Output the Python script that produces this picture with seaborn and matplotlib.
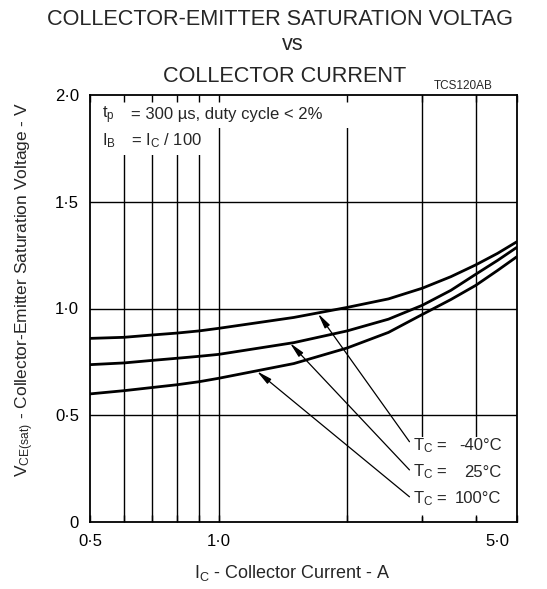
import numpy as np
import pandas as pd
import matplotlib
matplotlib.use("Agg")
import matplotlib.pyplot as plt
import matplotlib.transforms as mtransforms
from matplotlib.patches import Rectangle
from matplotlib.ticker import FixedLocator, NullLocator
import seaborn as sns

# Collector current (A) at which each curve is sampled
current_a = [0.5, 0.6, 0.7, 0.8, 0.9, 1.0, 1.5, 2.0, 2.5, 3.0, 3.5, 4.0, 4.5, 5.0]
# V_CE(sat) (V) for each case temperature
vce_m40 = [0.860, 0.865, 0.876, 0.885, 0.895, 0.907, 0.958, 1.005, 1.045, 1.095, 1.149, 1.204, 1.258, 1.313]
vce_25 = [0.737, 0.745, 0.757, 0.767, 0.776, 0.785, 0.840, 0.895, 0.950, 1.015, 1.085, 1.160, 1.225, 1.287]
vce_100 = [0.600, 0.615, 0.630, 0.643, 0.657, 0.673, 0.742, 0.815, 0.888, 0.972, 1.042, 1.108, 1.178, 1.243]
temps = ["-40", "25", "100"]

x_grid = [0.5, 0.6, 0.7, 0.8, 0.9, 1.0, 2.0, 3.0, 4.0, 5.0]
x_labels = ["0·5", "", "", "", "", "1·0", "", "", "", "5·0"]
y_grid = [0.0, 0.5, 1.0, 1.5, 2.0]
y_labels = ["0", "0·5", "1·0", "1·5", "2·0"]

df = pd.DataFrame({
    "current": current_a * 3,
    "vce": vce_m40 + vce_25 + vce_100,
    "temp": [t for t in temps for _ in current_a],
})

sns.set_theme(style="white")
plt.rcParams["font.family"] = ["Liberation Sans", "DejaVu Sans"]
plt.rcParams["mathtext.default"] = "regular"

W, H = 547, 589
fig = plt.figure(figsize=(W / 100, H / 100), dpi=100)
ax = fig.add_axes([90 / W, 1 - 522 / H, 427 / W, 427 / H])
ax.set_xscale("log")
ax.set_xlim(0.5, 5.0)
ax.set_ylim(0, 2.0)

# grid
for xv in x_grid[1:-1]:
    ax.axvline(xv, color="black", lw=1.0, zorder=0.8)
for yv in y_grid[1:-1]:
    ax.axhline(yv, color="black", lw=1.0, zorder=0.8)

# white panels behind the note texts
ax.add_patch(Rectangle((0.5, 1.845), 2.06 - 0.5, 0.16, facecolor="white",
                       edgecolor="none", zorder=0.9))
ax.add_patch(Rectangle((0.5, 1.72), 0.96 - 0.5, 0.13, facecolor="white",
                       edgecolor="none", zorder=0.9))
ax.add_patch(Rectangle((2.75, 0.022), 4.9 - 2.75, 0.40 - 0.022, facecolor="white",
                       edgecolor="none", zorder=0.9))

sns.lineplot(data=df, x="current", y="vce", hue="temp", palette=["black"] * 3,
             linewidth=2.0, legend=False, ax=ax, zorder=2)

ax.set_axisbelow(False)
ax.xaxis.set_major_locator(FixedLocator(x_grid))
ax.xaxis.set_minor_locator(NullLocator())
ax.set_xticklabels(x_labels)
ax.set_yticks(y_grid)
ax.set_yticklabels(y_labels)
ax.tick_params(axis="x", which="major", direction="in", length=5, width=1.0,
               top=True, bottom=True, color="black", pad=9, labelsize=12,
               labelcolor="black")
ax.tick_params(axis="y", length=0, pad=8, labelsize=12, labelcolor="black")
ax.set_xlabel("")
ax.set_ylabel("")
for s in ax.spines.values():
    s.set_color("black")
    s.set_linewidth(1.3)
    s.set_visible(True)

# shift the end label inward
last = ax.get_xticklabels()[-1]
last.set_transform(last.get_transform() + mtransforms.ScaledTranslation(-0.2, 0, fig.dpi_scale_trans))

def ftext(x, y, s, **kw):
    fig.text(x / W, 1 - y / H, s, **kw)

# titles
ftext(280, 25, "COLLECTOR-EMITTER SATURATION VOLTAG", ha="center", va="baseline", fontsize=15.6)
ftext(293, 50, "vs", ha="center", va="baseline", fontsize=15.6)
ftext(285, 81.5, "COLLECTOR CURRENT", ha="center", va="baseline", fontsize=15.6)
ftext(493, 89, "TCS120AB", ha="right", va="baseline", fontsize=8.5)

# axis labels
ftext(292, 578, "I$_C$ - Collector Current - A", ha="center", va="baseline", fontsize=13)
ftext(25, 290, "V$_{CE(sat)}$ - Collector-Emitter Saturation Voltage - V",
      ha="center", va="center", rotation=90, fontsize=12.5)

# test conditions
ftext(102, 118.5, "t$_p$", ha="left", va="baseline", fontsize=12)
ftext(131, 118.5, "= 300 µs, duty cycle < 2%", ha="left", va="baseline", fontsize=12)
ftext(102, 145, "I$_B$", ha="left", va="baseline", fontsize=12)
ftext(131, 145, "= I$_C$ / 100", ha="left", va="baseline", fontsize=12)

# curve labels with leader arrows
label_x, value_x = 2.85, 4.6
label_y = [0.337, 0.212, 0.087]
tail_y = [0.376, 0.244, 0.118]
tips = [(1.71, 0.976), (1.47, 0.838), (1.23, 0.706)]
values = ["-40°C", "25°C", "100°C"]
for ly, ty, tip, val in zip(label_y, tail_y, tips, values):
    ax.text(label_x, ly, "T$_C$ =", ha="left", va="baseline", fontsize=12, zorder=3)
    ax.text(value_x, ly, val, ha="right", va="baseline", fontsize=12, zorder=3)
    ax.annotate("", xy=tip, xytext=(2.80, ty),
                arrowprops=dict(arrowstyle="-|>,head_length=0.9,head_width=0.18",
                                color="black", lw=0.9, shrinkA=0, shrinkB=0,
                                mutation_scale=10), zorder=3)

fig.savefig("out.png", dpi=100, facecolor="white")
